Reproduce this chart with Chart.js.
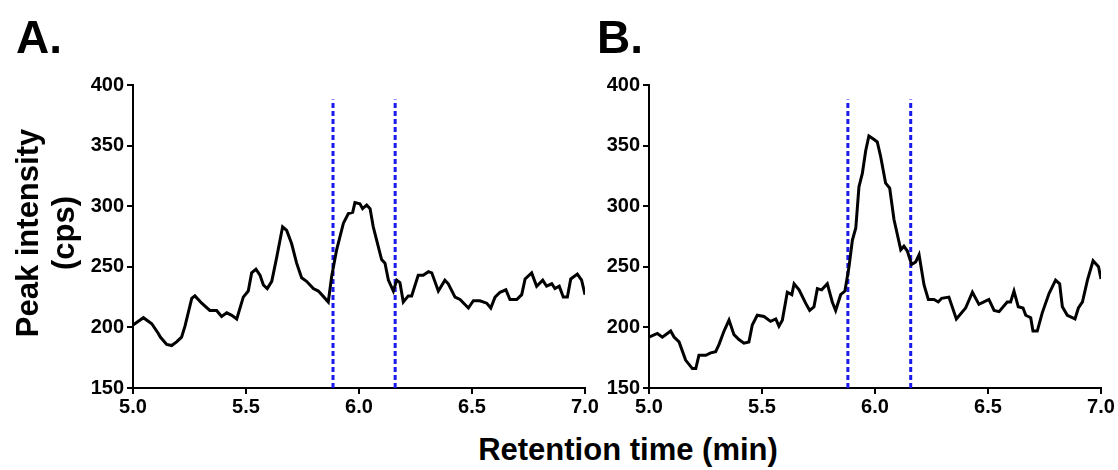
<!DOCTYPE html>
<html>
<head>
<meta charset="utf-8">
<script src="https://cdn.jsdelivr.net/npm/chart.js@4/dist/chart.umd.min.js"></script>
<style>
  body { margin: 0; background: #fff; }
  #wrap { position: relative; width: 1118px; height: 470px; overflow: hidden; font-family: "Liberation Sans", Arial, sans-serif; font-weight: bold; color: #000; }
  canvas { position: absolute; }
  .panel { position: absolute; font-size: 46px; line-height: 46px; }
  #ytitle { position: absolute; left: -84px; top: 197px; width: 260px; height: 72px; font-size: 31px; line-height: 36px; text-align: center; transform: rotate(-90deg); }
  #xtitle { position: absolute; left: 428px; top: 432px; width: 400px; text-align: center; font-size: 31px; line-height: 36px; }
</style>
</head>
<body>
<div id="wrap">
  <canvas id="chartA" width="610" height="360" style="left:0;top:60px"></canvas>
  <canvas id="chartB" width="558" height="360" style="left:560px;top:60px"></canvas>
  <div class="panel" style="left:16px;top:14px">A.</div>
  <div class="panel" style="left:597px;top:14px">B.</div>
  <div id="ytitle">Peak intensity<br>(cps)</div>
  <div id="xtitle">Retention time (min)</div>
</div>
<script>
// Panel A data (retention time in min, intensity in cps)
var timeA = [5.0, 5.046, 5.083, 5.112, 5.121, 5.149, 5.171, 5.193, 5.215, 5.23, 5.26, 5.274, 5.304, 5.34, 5.37, 5.392, 5.415, 5.437, 5.459, 5.488,
  5.51, 5.525, 5.544, 5.562, 5.577, 5.594, 5.614, 5.636, 5.662, 5.68, 5.702, 5.724, 5.746, 5.768, 5.798, 5.82, 5.84, 5.864, 5.879, 5.901,
  5.931, 5.953, 5.972, 5.982, 6.004, 6.016, 6.034, 6.049, 6.063, 6.078, 6.1, 6.115, 6.13, 6.152, 6.167, 6.181, 6.196, 6.218, 6.233, 6.262,
  6.284, 6.307, 6.322, 6.351, 6.38, 6.395, 6.425, 6.447, 6.484, 6.506, 6.535, 6.565, 6.583, 6.602, 6.624, 6.65, 6.668, 6.698, 6.72, 6.735,
  6.764, 6.786, 6.813, 6.83, 6.853, 6.867, 6.886, 6.904, 6.922, 6.937, 6.966, 6.985, 7.0];
var intensityA = [202, 208, 203, 195, 192, 186, 185, 188, 192, 201, 224, 226, 220, 214, 214, 209, 212, 210, 207, 225,
  230, 245, 248, 243, 235, 232, 238, 258, 283, 280, 269, 253, 241, 238, 232, 230, 226, 221, 242, 264,
  286, 294, 295, 303, 302, 298, 301, 298, 283, 272, 256, 253, 239, 230, 239, 237, 221, 226, 226, 243,
  243, 246, 245, 230, 239, 236, 225, 223, 216, 222, 222, 220, 216, 225, 229, 231, 223, 223, 227, 240,
  245, 234, 239, 234, 236, 232, 234, 225, 225, 240, 244, 239, 227];

// Panel B data
var timeB = [5.0, 5.037, 5.059, 5.081, 5.096, 5.111, 5.133, 5.162, 5.192, 5.207, 5.221, 5.251, 5.273, 5.295, 5.31, 5.332, 5.354, 5.376, 5.398, 5.42,
  5.442, 5.457, 5.479, 5.509, 5.538, 5.561, 5.575, 5.59, 5.612, 5.632, 5.642, 5.664, 5.693, 5.711, 5.73, 5.745, 5.764, 5.789, 5.811, 5.826,
  5.848, 5.867, 5.885, 5.9, 5.915, 5.929, 5.944, 5.959, 5.973, 5.996, 6.01, 6.025, 6.047, 6.065, 6.084, 6.114, 6.128, 6.143, 6.162, 6.18,
  6.195, 6.217, 6.236, 6.261, 6.28, 6.295, 6.327, 6.36, 6.401, 6.431, 6.46, 6.482, 6.504, 6.527, 6.549, 6.585, 6.6, 6.615, 6.634, 6.655,
  6.667, 6.689, 6.699, 6.718, 6.74, 6.77, 6.799, 6.817, 6.829, 6.851, 6.873, 6.885, 6.9, 6.918, 6.94, 6.965, 6.989, 7.0];
var intensityB = [192, 195, 192, 195, 197, 192, 188, 173, 166, 166, 177, 177, 179, 180, 186, 197, 206, 194, 190, 187,
  188, 202, 210, 209, 205, 207, 201, 206, 229, 227, 236, 231, 220, 214, 217, 232, 231, 236, 221, 214,
  227, 230, 250, 272, 282, 316, 327, 346, 358, 355, 353, 341, 319, 315, 289, 264, 267, 263, 252, 254,
  260, 235, 223, 223, 221, 224, 225, 207, 216, 229, 219, 221, 223, 214, 213, 221, 221, 230, 217, 216,
  210, 208, 197, 197, 212, 228, 239, 236, 217, 210, 208, 207, 216, 221, 239, 255, 250, 240];

// peak window markers (min)
var markersA = [5.885, 6.16];
var markersB = [5.88, 6.158];
var markerTop = 388;

var yTicks = [150, 200, 250, 300, 350, 400];
var xTicks = [5.0, 5.5, 6.0, 6.5, 7.0];

function toPoints(xs, ys) {
  return xs.map(function (x, i) { return { x: x, y: ys[i] }; });
}

function markerSet(t) {
  return {
    data: [{ x: t, y: yTicks[0] }, { x: t, y: markerTop }],
    borderColor: '#1a1aee',
    borderWidth: 3,
    borderDash: [5, 3],
    pointRadius: 0
  };
}

var tickFont = { family: '"Liberation Sans", Arial, sans-serif', size: 20, weight: 'bold' };

function makeChart(id, xs, ys, markers, yWidth, padRight) {
  var datasets = [{
    data: toPoints(xs, ys),
    borderColor: '#000',
    borderWidth: 3,
    pointRadius: 0,
    tension: 0
  }];
  markers.forEach(function (t) { datasets.push(markerSet(t)); });

  return new Chart(document.getElementById(id), {
    type: 'line',
    data: { datasets: datasets },
    options: {
      responsive: false,
      animation: false,
      layout: { padding: { top: 25, right: padRight, left: 0, bottom: 0 } },
      plugins: {
        legend: { display: false },
        title: { display: false },
        tooltip: { enabled: false }
      },
      scales: {
        x: {
          type: 'linear',
          min: xTicks[0],
          max: xTicks[xTicks.length - 1],
          afterBuildTicks: function (scale) { scale.ticks = xTicks.map(function (v) { return { value: v }; }); },
          afterFit: function (scale) { scale.height = 32; },
          border: { display: true, color: '#000', width: 2 },
          grid: { drawOnChartArea: false, drawTicks: true, tickLength: 6, color: '#000', lineWidth: 2 },
          ticks: {
            color: '#000', font: tickFont, padding: 1, maxRotation: 0,
            callback: function (v) { return v.toFixed(1); }
          }
        },
        y: {
          min: yTicks[0],
          max: yTicks[yTicks.length - 1],
          afterBuildTicks: function (scale) { scale.ticks = yTicks.map(function (v) { return { value: v }; }); },
          afterFit: function (scale) { scale.width = yWidth; },
          border: { display: true, color: '#000', width: 2 },
          grid: { drawOnChartArea: false, drawTicks: true, tickLength: 6, color: '#000', lineWidth: 2 },
          ticks: { color: '#000', font: tickFont, padding: 3 }
        }
      }
    }
  });
}

makeChart('chartA', timeA, intensityA, markersA, 133, 25);
makeChart('chartB', timeB, intensityB, markersB, 89, 17);
</script>
</body>
</html>
